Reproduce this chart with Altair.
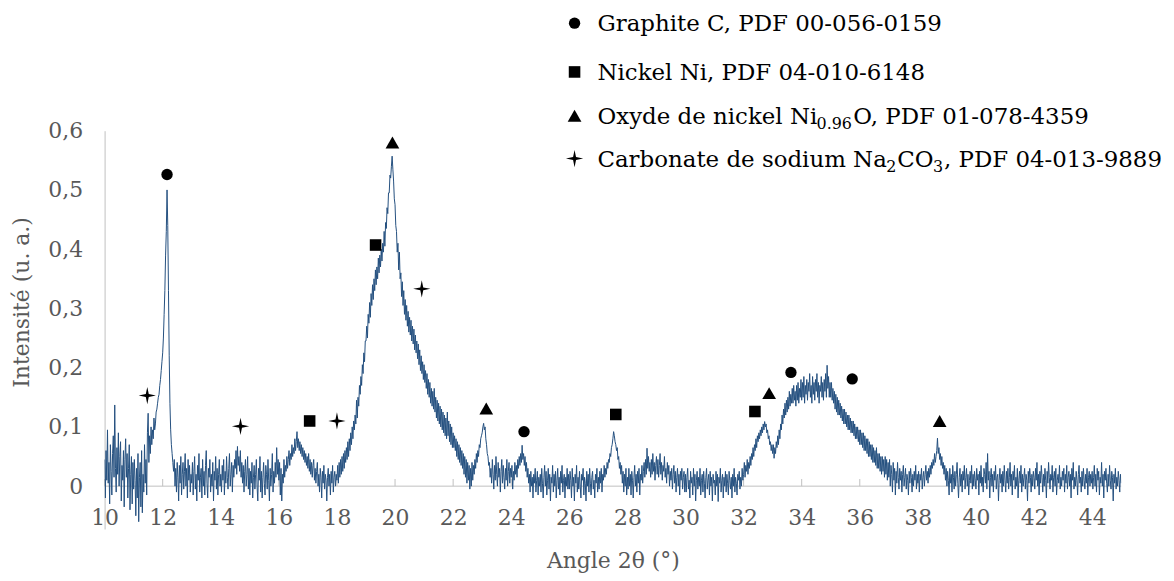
import altair as alt
import pandas as pd

FONT = "DejaVu Serif"
GRAY = "#595959"
AXIS_GRAY = "#bfbfbf"
LINE_BLUE = "#24507f"

# ---- XRD pattern: intensity readings in thousandths of u.a., 40 readings per degree (0.025 deg steps)
i10 = [45, -20, 60, 10, 95, 5, 40, -30, 70, 25, -15, 55, 85, 15, 137, 30, -10, 65, 20, 90,
       0, 50, 75, -25, 35, 10, 60, -35, 45, 80, 15, 55, -20, 30, 70, -40, 20, 50, -30, 40]
i11 = [-5, 45, 10, -50, 30, -20, 55, -60, 15, 40, -35, 60, -45, 20, -10, 70, 5, 45, -15, 90,
       123, 40, 85, 55, 100, 70, 95, 80, 115, 95, 105, 125, 130, 140, 150, 155, 170, 180, 195, 210]
i12 = [225, 250, 290, 330, 390, 430, 500, 440, 330, 220, 140, 95, 70, 55, 40, 25, 45, 0, 30, -10,
       40, 15, -25, 35, 5, 50, -15, 20, 40, -5, 25, 55, 0, 30, -20, 45, 10, 35, -10, 20]
i13 = [5, 40, -15, 25, 50, -5, 20, -25, 35, 10, 55, -10, 15, 30, -20, 45, 0, 25, -15, 35,
       60, 5, -20, 30, 15, 45, -10, 20, 0, 40, -25, 25, 10, 50, -5, 30, -15, 20, 45, 0]
i14 = [20, -10, 35, 10, 45, -15, 25, 5, 50, 15, -5, 30, 55, 0, 20, 40, -10, 35, 15, 45,
       30, 60, 20, 67, 35, 50, 25, 60, 15, 40, 5, 35, -10, 25, 45, 0, 20, 50, -5, 30]
i15 = [-15, 25, 5, 40, -20, 15, 35, -5, 20, 45, 0, -25, 30, 10, 50, -10, 25, -20, 15, 40,
       5, -15, 35, 20, -5, 45, 10, -25, 30, 0, 20, 55, -10, 25, 5, 40, 15, 65, 20, 45]
i16 = [10, 40, -15, 30, -25, 20, 5, 45, 15, 35, 25, 50, 30, 45, 60, 35, 55, 45, 70, 50,
       65, 55, 80, 60, 75, 92, 65, 80, 60, 75, 55, 70, 50, 65, 45, 60, 40, 55, 35, 50]
i17 = [30, 55, 25, 45, 20, 40, 15, 35, 45, 10, 30, 5, 25, 40, 0, 20, -10, 30, 15, -20,
       25, 5, 35, -5, 20, 10, -25, 15, 30, 0, 20, -15, 25, 5, 35, -10, 15, 25, 0, 20]
i18 = [10, 35, 5, 40, 15, 45, 20, 50, 25, 55, 30, 60, 40, 65, 45, 75, 50, 80, 60, 90,
       70, 100, 80, 110, 95, 120, 105, 145, 115, 150, 135, 170, 155, 185, 170, 205, 190, 225, 210, 245]
i19 = [245, 270, 250, 290, 275, 310, 285, 325, 305, 340, 315, 350, 330, 365, 340, 370, 350, 385, 360, 390,
       370, 400, 380, 410, 395, 430, 405, 445, 435, 470, 460, 495, 495, 525, 520, 540, 557, 535, 515, 485]
i20 = [475, 440, 430, 395, 410, 365, 395, 350, 360, 320, 345, 305, 330, 290, 315, 280, 305, 270, 295, 260,
       285, 255, 280, 245, 270, 240, 265, 230, 255, 225, 245, 215, 240, 205, 230, 195, 220, 190, 210, 180]
i21 = [205, 175, 195, 165, 190, 155, 180, 150, 175, 140, 165, 135, 160, 130, 165, 125, 150, 115, 145, 110,
       140, 105, 135, 100, 130, 95, 125, 90, 120, 85, 115, 80, 125, 85, 110, 75, 105, 70, 100, 65]
i22 = [90, 65, 85, 60, 80, 50, 75, 45, 70, 40, 65, 35, 60, 30, 55, 20, 50, 15, 45, 5,
       40, 10, 35, -5, 30, 0, 40, 10, 35, 20, 45, 30, 55, 40, 60, 50, 70, 65, 80, 85]
i23 = [90, 100, 106, 95, 100, 80, 70, 55, 50, 35, 40, 15, 30, 5, 45, 20, -5, 35, 10, 50,
       20, 0, 40, 15, 30, -10, 25, 45, 5, 35, 15, -5, 30, 10, 45, 0, 25, 40, 5, 30]
i24 = [15, 35, -5, 25, 10, 40, 20, 35, 15, 45, 30, 50, 35, 55, 40, 69, 45, 55, 35, 50,
       25, 40, 15, 30, 5, 20, -10, 25, 0, 15, -20, 20, 5, 30, -10, 10, 25, -15, 15, 0]
i25 = [20, -10, 30, 5, -20, 15, 35, 0, 25, -15, 10, 30, -5, 20, -25, 15, 5, 35, -10, 20,
       0, 25, -20, 10, 30, -5, 15, -15, 25, 5, 35, -10, 10, 20, -20, 15, 0, 30, -5, 20]
i26 = [-5, 25, 10, -20, 30, 0, 15, -25, 20, 5, 35, -10, 15, -5, 25, 0, -20, 20, 10, 30,
       -15, 15, 5, -25, 25, 0, 20, -10, 30, 5, -15, 15, 25, -5, 10, -20, 20, 5, 30, -10]
i27 = [15, -5, 25, 5, 30, -10, 20, 10, 35, 15, 30, 20, 40, 30, 45, 40, 55, 50, 65, 70,
       80, 92, 85, 75, 70, 60, 65, 45, 50, 30, 40, 20, 35, 5, 25, -10, 20, 0, 30, -15]
i28 = [15, -5, 30, 0, 20, -15, 25, 10, -20, 15, 35, 0, 20, -10, 25, 5, 30, -15, 20, 10,
       35, 5, 25, 40, 15, 45, 20, 64, 30, 50, 25, 40, 15, 45, 20, 55, 25, 40, 10, 35]
i29 = [50, 20, 45, 15, 35, 55, 20, 40, 10, 35, 25, 50, 15, 30, 5, 40, 20, 35, 0, 25,
       10, 30, -5, 20, 35, 5, 25, -10, 15, 30, 0, 20, -15, 25, 10, 30, -5, 15, 25, -10]
i30 = [20, -10, 15, 30, -5, 10, -20, 25, 5, 15, -15, 30, 0, 20, -25, 10, 25, -5, 15, 0,
       30, -15, 10, 20, -10, 25, 5, -20, 15, 30, -5, 10, 20, -15, 25, 0, 15, -25, 20, 5]
i31 = [10, -15, 25, 0, 20, -26, 15, 5, 30, -10, 10, 20, -20, 15, 0, 25, -10, 20, 5, -15,
       25, 10, -5, 15, -20, 20, 0, 30, -10, 15, 5, -15, 20, 10, 25, -5, 15, 0, 30, 10]
i32 = [20, 40, 15, 35, 25, 45, 20, 40, 30, 50, 35, 55, 45, 65, 50, 70, 60, 80, 65, 85,
       75, 90, 80, 95, 85, 100, 90, 105, 95, 109, 100, 105, 90, 95, 80, 85, 70, 75, 60, 70]
i33 = [55, 70, 47, 65, 55, 75, 65, 85, 70, 95, 80, 105, 95, 120, 105, 130, 115, 140, 120, 145,
       125, 150, 130, 160, 135, 155, 140, 165, 140, 170, 145, 160, 135, 170, 145, 175, 140, 165, 150, 180]
i34 = [145, 175, 150, 185, 140, 170, 155, 180, 145, 175, 160, 190, 150, 170, 140, 185, 155, 175, 145, 180,
       160, 190, 150, 175, 140, 170, 160, 185, 150, 175, 145, 180, 160, 190, 150, 204, 165, 185, 150, 175]
i35 = [150, 175, 145, 165, 140, 160, 130, 155, 125, 150, 120, 145, 120, 140, 115, 135, 110, 130, 105, 130,
       105, 125, 100, 120, 95, 120, 95, 115, 90, 110, 90, 110, 85, 105, 80, 100, 80, 100, 75, 95]
i36 = [70, 95, 70, 90, 65, 90, 60, 85, 60, 80, 55, 80, 50, 75, 50, 70, 45, 70, 40, 65,
       40, 60, 35, 65, 30, 55, 30, 55, 25, 50, 20, 50, 25, 45, 15, 50, 20, 45, 10, 40]
i37 = [15, 45, 0, 35, 20, -10, 40, 10, 30, -15, 25, 5, 40, 15, -5, 30, 10, 25, -10, 20,
       35, 0, 15, 30, -5, 20, 10, -15, 25, 5, 30, 15, -10, 20, 0, 25, 10, 35, -5, 20]
i38 = [5, 25, -10, 20, 10, 30, -5, 15, 25, 0, 20, 35, 10, 25, 5, 30, 15, 35, 20, 40,
       30, 45, 35, 55, 40, 50, 60, 81, 55, 65, 45, 55, 35, 50, 30, 40, 20, 35, 10, 30]
i39 = [0, 25, 10, -15, 30, 5, 20, -10, 35, 15, -5, 25, 0, 20, 40, 5, -20, 15, 30, 0,
       20, -10, 25, 10, 35, -5, 15, 30, 0, 20, -15, 10, 25, 5, 35, -5, 20, 0, 25, 10]
i40 = [-5, 30, 10, 20, -15, 25, 5, 35, 0, 15, -10, 30, 20, 5, 40, -5, 55, 10, 25, -20,
       15, 30, 0, 20, -10, 25, 10, 35, -5, 15, 20, -25, 10, 30, 5, 20, -10, 25, 0, 35]
i41 = [10, -10, 25, 5, 30, -5, 15, 40, 0, 20, -15, 25, 10, 35, -5, 15, 0, 30, -20, 10,
       25, 5, 35, -10, 20, 0, 15, 30, -5, 20, 10, -25, 25, 5, 30, 15, -10, 20, 0, 25]
i42 = [15, -5, 30, 10, 40, 0, 20, -15, 25, 5, 35, 15, -10, 20, 0, 30, 10, -20, 25, 5,
       40, 15, -5, 20, 10, 35, -10, 15, 25, 0, 30, -15, 10, 20, 5, 35, -5, 15, 0, 25]
i43 = [10, 30, -10, 20, 5, 35, -5, 15, 25, 0, 20, -20, 30, 10, 40, -5, 15, 0, 25, 10,
       -15, 20, 35, 5, 15, -10, 25, 0, 30, 10, -5, 20, 5, 30, -15, 15, 25, 0, 20, 5]
i44 = [25, -5, 15, 35, 0, 20, -10, 30, 10, 25, -15, 15, 5, 40, 0, 20, -20, 25, 10, 30,
       5, -10, 20, 0, 35, 10, -5, 25, 15, -25, 20, 5, 30, -5, 15, 0, 25, 10, -10, 20]
i45 = [5]

# ---- identified reflections (angle 2theta, marker height)
graphite_x = [12.15, 24.44, 33.63, 35.74]
graphite_y = [0.526, 0.092, 0.192, 0.181]
nickel_x = [17.06, 19.33, 27.60, 32.39]
nickel_y = [0.110, 0.407, 0.121, 0.126]
nio_x = [19.91, 23.14, 32.88, 38.75]
nio_y = [0.580, 0.131, 0.157, 0.110]
na2co3_x = [11.47, 14.68, 18.00, 20.92]
na2co3_y = [0.153, 0.101, 0.110, 0.333]

x_ticks = [10, 12, 14, 16, 18, 20, 22, 24, 26, 28, 30, 32, 34, 36, 38, 40, 42, 44]
y_ticks = [0, 0.1, 0.2, 0.3, 0.4, 0.5, 0.6]

# ---- assemble the pattern table
STEP = 0.025
rows = [i10, i11, i12, i13, i14, i15, i16, i17, i18, i19, i20, i21, i22, i23, i24, i25, i26,
        i27, i28, i29, i30, i31, i32, i33, i34, i35, i36, i37, i38, i39, i40, i41, i42, i43, i44]
angles, intens = [], []
for deg, row in zip(range(10, 45), rows):
    for j, v in enumerate(row):
        angles.append(round(deg + j * STEP, 3))
        intens.append(v / 1000.0)
angles.append(45.0)
intens.append(i45[0] / 1000.0)
pattern = pd.DataFrame({"angle": angles, "intensite": intens})

xscale = alt.Scale(domain=[10, 45], nice=False, zero=False)
yscale = alt.Scale(domain=[-0.0723, 0.6], nice=False, zero=False)

x_axis = alt.Axis(
    values=x_ticks, offset=-42, domain=False, ticks=False, labelPadding=21,
    labelFlush=False, labelOverlap=False, title="Angle 2θ (°)", titlePadding=22)
y_axis = alt.Axis(
    values=y_ticks, labelExpr="replace(format(datum.value, '.1~f'), '.', ',')",
    domain=True, domainColor=AXIS_GRAY, ticks=False, labelPadding=22, labelOverlap=False,
    title="Intensité (u. a.)", titleX=-83, titleY=172, titleAlign="center",
    titleBaseline="middle")

x_enc = alt.X("angle:Q", scale=xscale, axis=x_axis)
y_enc = alt.Y("intensite:Q", scale=yscale, axis=y_axis)

dummy = pd.DataFrame({"k": [0]})

zero_line = alt.Chart(pd.DataFrame({"intensite": [0.0]})).mark_rule(
    color=AXIS_GRAY, strokeWidth=1).encode(y=y_enc)

tick_df = pd.DataFrame({"angle": x_ticks, "intensite": [0.0] * len(x_ticks),
                        "top": [0.012] * len(x_ticks)})
ticks = alt.Chart(tick_df).mark_rule(color=AXIS_GRAY, strokeWidth=1).encode(
    x=x_enc, y=y_enc, y2="top:Q")

line = alt.Chart(pattern).mark_line(color=LINE_BLUE, strokeWidth=1, clip=True).encode(
    x=x_enc, y=y_enc)

STAR = "M0,-1L0.17,-0.17L1,0L0.17,0.17L0,1L-0.17,0.17L-1,0L-0.17,-0.17Z"
phases = [
    (graphite_x, graphite_y, "circle", 130),
    (nickel_x, nickel_y, "square", 135),
    (nio_x, nio_y, "triangle-up", 190),
    (na2co3_x, na2co3_y, STAR, 300),
]

layers = [zero_line, ticks, line]
legend_sym_y = [-108, -59, -15, 28]
for (px, py, shp, sz), ly in zip(phases, legend_sym_y):
    dfp = pd.DataFrame({"angle": px, "intensite": py})
    layers.append(alt.Chart(dfp).mark_point(
        shape=shp, size=sz, filled=True, color="black", opacity=1).encode(x=x_enc, y=y_enc))
    layers.append(alt.Chart(dummy).mark_point(
        shape=shp, size=sz, filled=True, color="black", opacity=1).encode(
        x=alt.value(472), y=alt.value(ly)))

# legend texts (with chemical subscripts)
MAIN = 23
SUB = 16
legend_segments = [
    ("Graphite C, PDF 00-056-0159", 495, -100, MAIN),
    ("Nickel Ni, PDF 04-010-6148", 495, -51, MAIN),
    ("Oxyde de nickel Ni", 495, -7, MAIN),
    ("0.96", 715, -2, SUB),
    ("O, PDF 01-078-4359", 752, -7, MAIN),
    ("Carbonate de sodium Na", 495, 36, MAIN),
    ("2", 785, 41, SUB),
    ("CO", 796, 36, MAIN),
    ("3", 832, 41, SUB),
    (", PDF 04-013-9889", 843, 36, MAIN),
]
for txt, tx, ty, fs in legend_segments:
    layers.append(alt.Chart(dummy).mark_text(
        text=txt, align="left", baseline="alphabetic", font=FONT, fontSize=fs, color="black"
    ).encode(x=alt.value(tx), y=alt.value(ty)))

chart = alt.layer(*layers).properties(
    width=1021, height=400,
    autosize=alt.AutoSizeParams(type="none"),
    padding={"left": 97, "top": 122, "right": 45, "bottom": 45},
).configure_view(stroke=None).configure_axis(
    grid=False, labelFont=FONT, titleFont=FONT, labelColor=GRAY, titleColor=GRAY,
    labelFontSize=22, titleFontSize=22, titleFontWeight="normal",
)

chart.save("out.html", embed_options={"renderer": "svg", "actions": False})
